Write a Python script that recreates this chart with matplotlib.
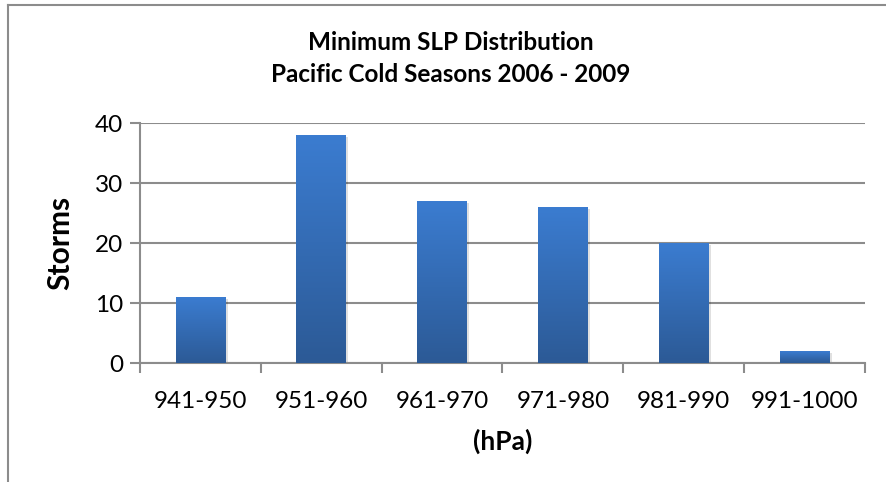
import numpy as np
import matplotlib.pyplot as plt
from matplotlib.colors import LinearSegmentedColormap
from matplotlib.patches import Rectangle

# data
ranges = ['941-950', '951-960', '961-970', '971-980', '981-990', '991-1000']
storms = [11, 38, 27, 26, 20, 2]

plt.rcParams['font.family'] = ['Lato', 'DejaVu Sans']

fig = plt.figure(figsize=(8.87, 4.82), dpi=100)
ax = fig.add_axes([140/887, 1-363/482, 725/887, 240/482])

x = np.arange(len(ranges))
bw = 0.41
grad = LinearSegmentedColormap.from_list('g', ['#2c5a96', '#3b7cd0'])
bars = ax.bar(x, storms, width=bw, color='none', zorder=3)
for b in bars:
    # soft shadow + vertical gradient for each bar
    x0, h = b.get_x(), b.get_height()
    ax.add_patch(Rectangle((x0 + 0.02, -0.4), bw, h, color='#000000', alpha=0.12,
                           zorder=2, lw=0))
    img = ax.imshow(np.linspace(0, 1, 100).reshape(-1, 1), cmap=grad, aspect='auto',
                    origin='lower', extent=(x0, x0 + bw, 0, h), zorder=3)
    img.set_clip_path(b)

ax.set_xlim(-0.5, len(ranges) - 0.5)
ax.set_ylim(0, 40)
ax.set_yticks([0, 10, 20, 30, 40])
ax.yaxis.grid(True, color='#8c8c8c', lw=1.5, zorder=1)
ax.set_axisbelow(True)
for s in ['top', 'right']:
    ax.spines[s].set_visible(False)
ax.spines['left'].set_color('#8c8c8c')
ax.spines['bottom'].set_color('#8c8c8c')
ax.spines['left'].set_linewidth(1.5)
ax.spines['bottom'].set_linewidth(1.5)

ax.set_xticks(x)
ax.set_xticklabels(ranges, fontsize=17.5)
ax.set_xticks(np.arange(-0.5, len(ranges)), minor=True)
ax.tick_params(axis='x', which='major', length=0, pad=20)
ax.tick_params(axis='x', which='minor', length=7, width=1.5, color='#8c8c8c')
ax.tick_params(axis='y', length=7, width=1.5, color='#8c8c8c', labelsize=17.5, pad=5)

ax.set_ylabel('Storms', fontsize=21.5, fontweight='bold')
ax.yaxis.set_label_coords(-(140 - 74) / 725, 0.5)
ax.set_xlabel('(hPa)', fontsize=19, fontweight='bold', labelpad=12)

fig.text(0.508, 1-43/482, 'Minimum SLP Distribution', ha='center', va='center',
         fontsize=17.5, fontweight='bold')
fig.text(0.508, 1-75/482, 'Pacific Cold Seasons 2006 - 2009', ha='center', va='center',
         fontsize=17.5, fontweight='bold')

# chart area border
fig.add_artist(plt.Line2D([8/887, 8/887], [0, 1-5/482], color='#8c8c8c', lw=1.5))
fig.add_artist(plt.Line2D([8/887, 1], [1-5/482, 1-5/482], color='#8c8c8c', lw=1.5))

fig.savefig('out.png', dpi=100)
